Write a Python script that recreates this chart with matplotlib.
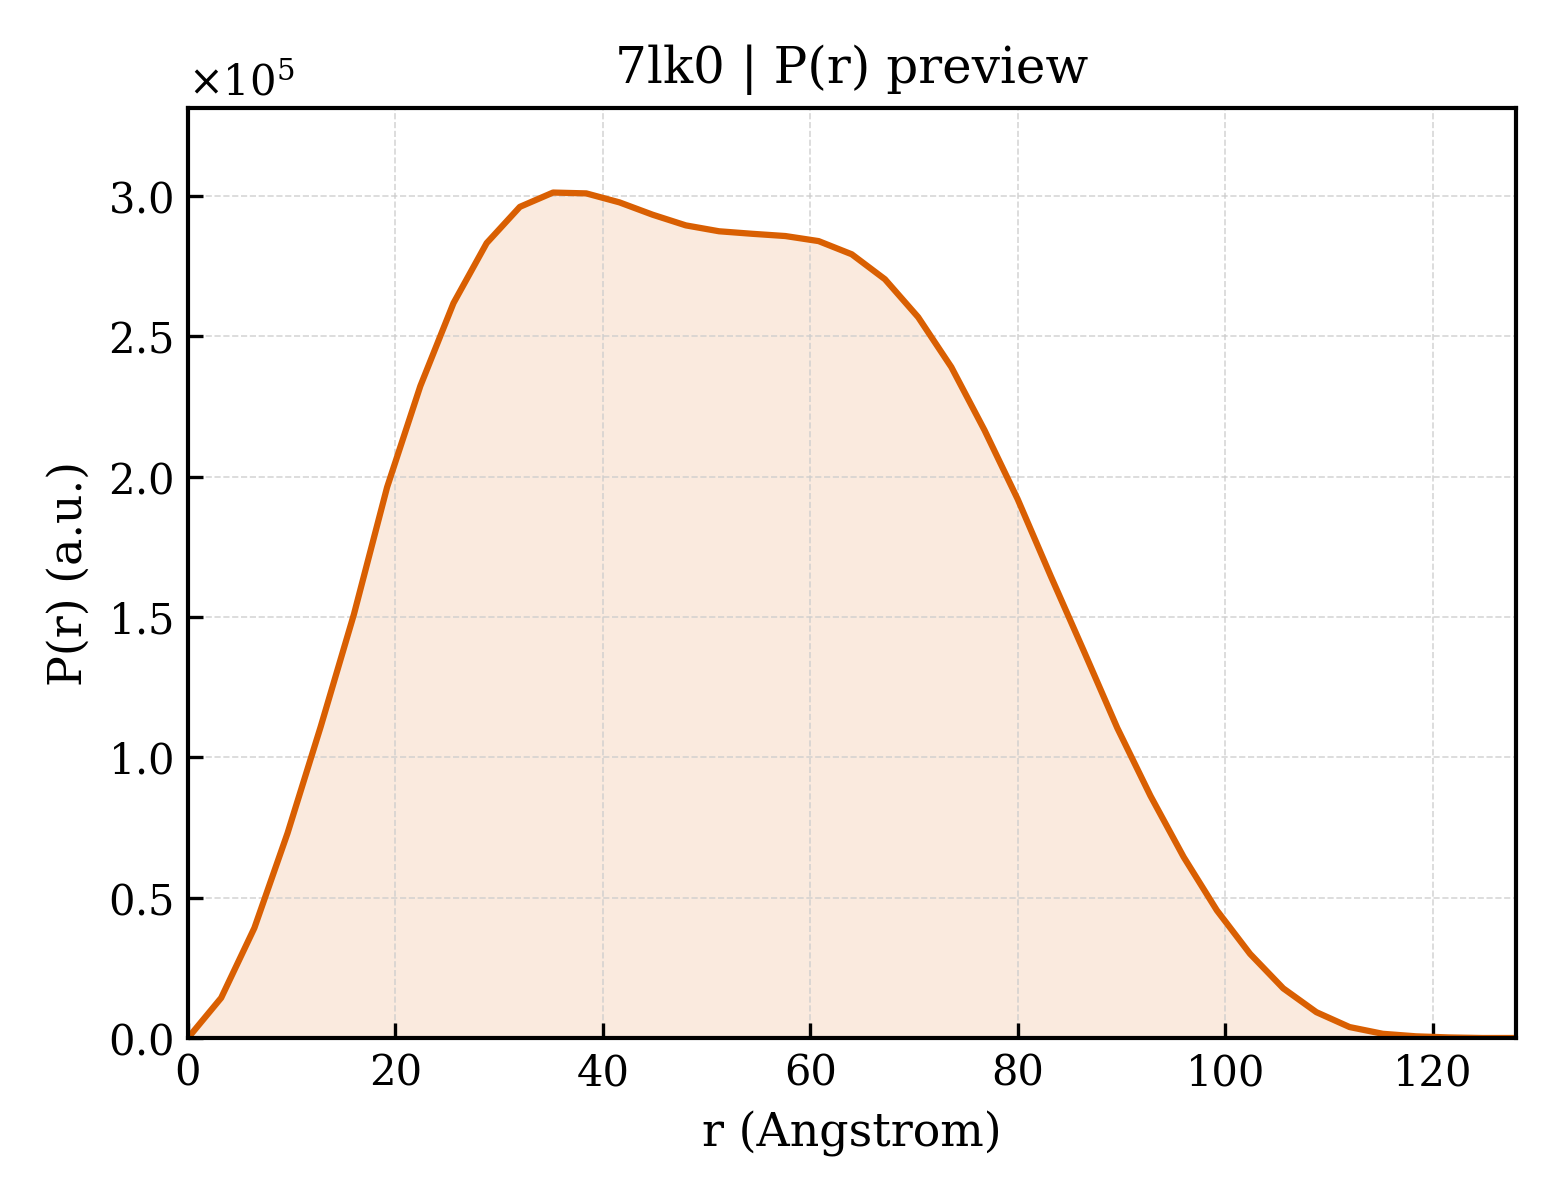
import numpy as np
import matplotlib
matplotlib.use("Agg")
import matplotlib.pyplot as plt
from matplotlib.ticker import ScalarFormatter

plt.rcParams['font.family'] = ['DejaVu Serif']
plt.rcParams['mathtext.fontset'] = 'dejavuserif'

r_step = 3.2
pr_vals = [0.0, 0.143, 0.392, 0.73, 1.11, 1.51, 1.963, 2.323, 2.619, 2.833,
           2.962, 3.013, 3.010, 2.978, 2.934, 2.896, 2.875, 2.866, 2.858, 2.840,
           2.793, 2.704, 2.569, 2.391, 2.166, 1.92, 1.645, 1.377, 1.105, 0.863,
           0.645, 0.455, 0.300, 0.177, 0.092, 0.039, 0.015, 0.006, 0.002, 0.0, 0.0]
pr = np.array(pr_vals) * 1e5
r = np.arange(len(pr)) * r_step

title = "7lk0 | P(r) preview"
xlabel = "r (Angstrom)"
ylabel = "P(r) (a.u.)"
color = '#d95f02'

fig = plt.figure(figsize=(5.2, 4.0), dpi=300)
ax = fig.add_axes([0.1205, 0.135, 0.851, 0.775])

ax.fill_between(r, pr, 0, color=color, alpha=0.13, linewidth=0)
ax.plot(r, pr, color=color, lw=1.5)

ax.set_xlim(0, r[-1])
ax.set_ylim(0, pr.max() * 1.1)

fmt = ScalarFormatter(useMathText=True)
fmt.set_powerlimits((0, 0))
ax.yaxis.set_major_formatter(fmt)
ax.yaxis.get_offset_text().set_fontsize(10)

ax.tick_params(direction='in', labelsize=10, width=0.8, length=3.5)
for s in ax.spines.values():
    s.set_linewidth(1.0)
ax.grid(True, linestyle='--', linewidth=0.4, color='#cccccc', alpha=0.8)

ax.set_xlabel(xlabel, fontsize=11)
ax.set_ylabel(ylabel, fontsize=11)
ax.set_title(title, fontsize=12)

fig.savefig('out.png', dpi=300)
